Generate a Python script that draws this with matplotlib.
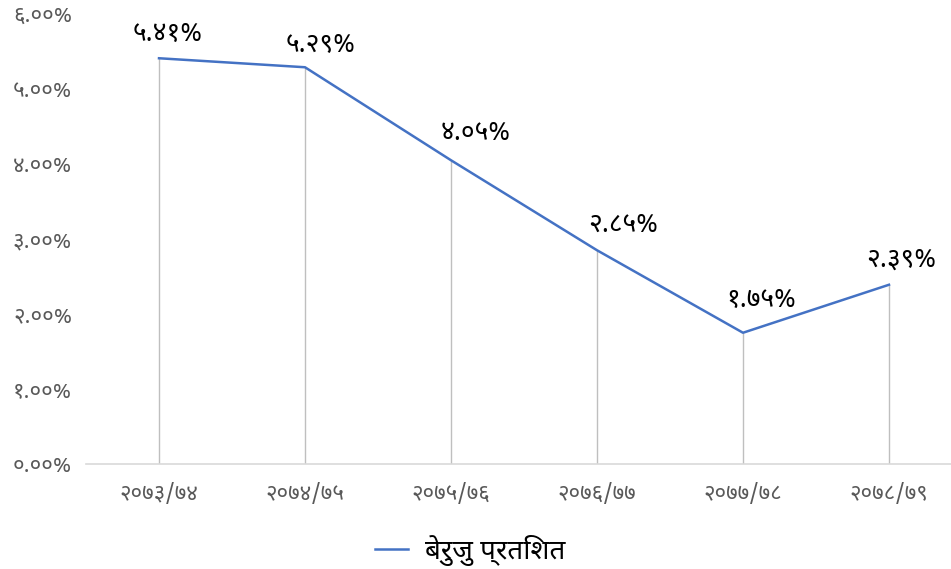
import matplotlib
matplotlib.use('Agg')
import matplotlib.pyplot as plt

plt.rcParams['font.family'] = ['Noto Sans Devanagari', 'Noto Sans Devanagari UI', 'Mukta', 'DejaVu Sans']

years = ['२०७३/७४', '२०७४/७५', '२०७५/७६', '२०७६/७७', '२०७७/७८', '२०७८/७९']
values = [5.41, 5.29, 4.05, 2.85, 1.75, 2.39]
yticks = [0, 1, 2, 3, 4, 5, 6]
legend_label = 'बेरुजु प्रतिशत'

# label nudges in pixels (dx, dy)
nudges = [(9, 24), (16, 23), (25, 27), (26, 25), (18, 33), (12, 25)]

digits = str.maketrans('0123456789', '०१२३४५६७८९')


def dev(v):
    return f'{v:.2f}%'.translate(digits)


fig = plt.figure(figsize=(9.51, 5.69), dpi=100)
ax = fig.add_axes([86 / 951, 105 / 569, 876 / 951, 450 / 569])

x = list(range(len(values)))
ax.vlines(x, 0, values, color='#BFBFBF', linewidth=1.0, zorder=1)
line, = ax.plot(x, values, color='#4472C4', linewidth=1.8, zorder=3, label=legend_label)

for i, v in enumerate(values):
    dx, dy = nudges[i]
    ax.annotate(dev(v), (i, v), xytext=(dx * 0.72, dy * 0.72), textcoords='offset points',
                ha='center', va='center', fontsize=19, color='black')

ax.set_xlim(-0.5, len(values) - 0.5)
ax.set_ylim(0, 6)
ax.set_xticks(x)
ax.set_xticklabels(years, fontsize=16, color='#595959')
ax.set_yticks(yticks)
ax.set_yticklabels([dev(t) for t in yticks], fontsize=16, color='#595959')
ax.tick_params(axis='both', length=0)
ax.tick_params(axis='x', pad=14)
ax.tick_params(axis='y', pad=10)

for s in ['top', 'right', 'left']:
    ax.spines[s].set_visible(False)
ax.spines['bottom'].set_color('#D9D9D9')
ax.spines['bottom'].set_linewidth(1.2)

fig.legend(handles=[line], loc='center', bbox_to_anchor=(470 / 951, 1 - 550 / 569),
           frameon=False, fontsize=20, handlelength=1.2, handletextpad=0.6)

fig.savefig('out.png')
